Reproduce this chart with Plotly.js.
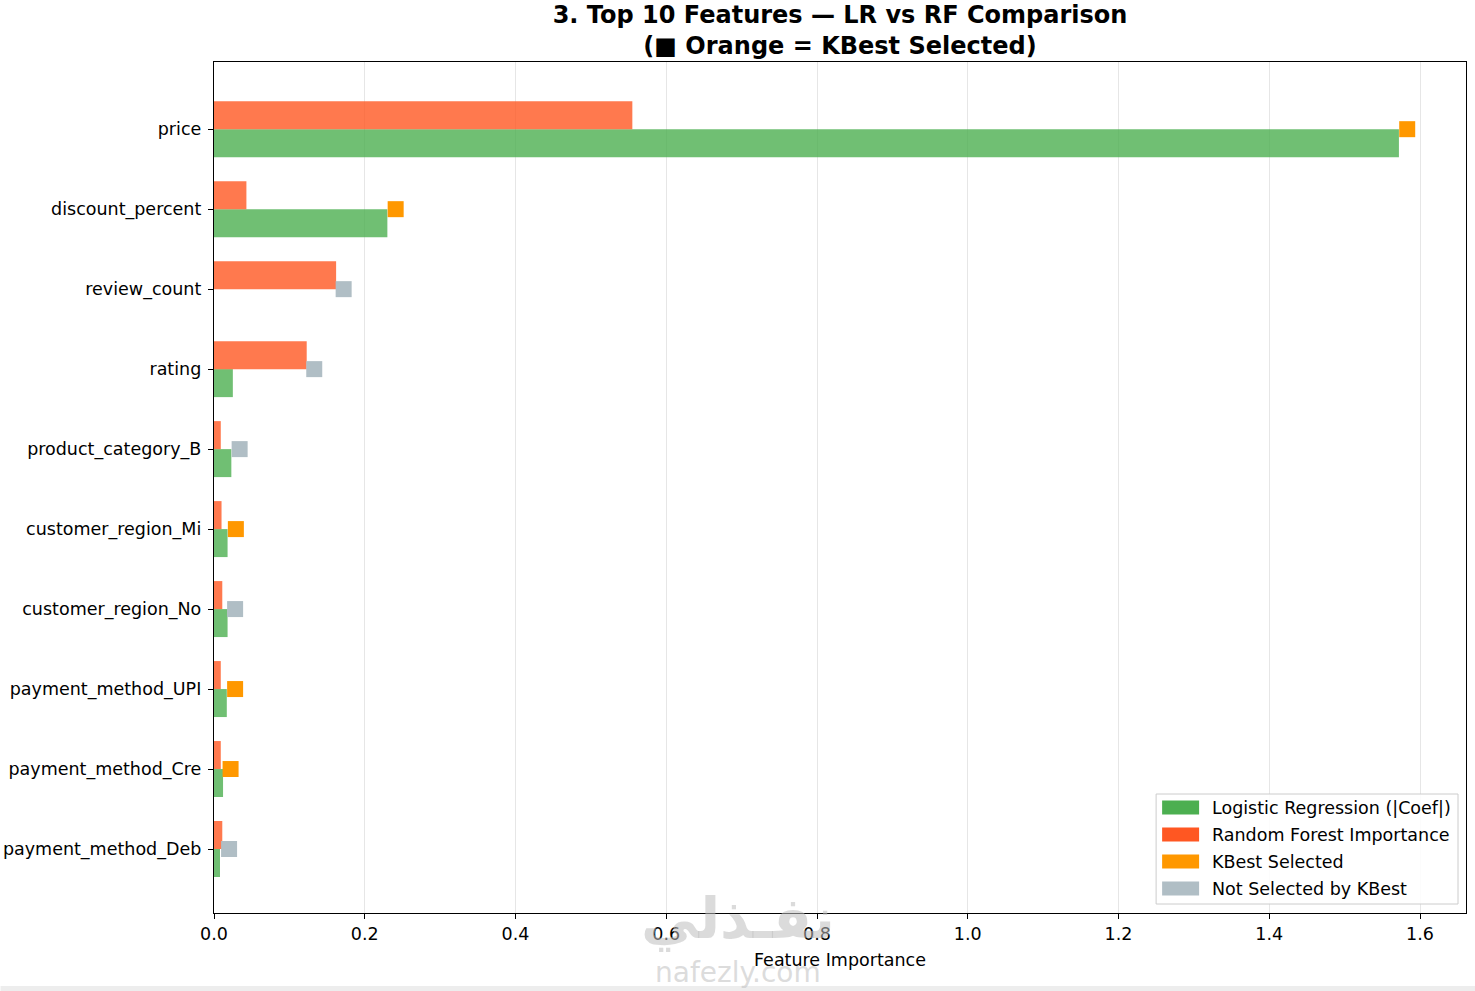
<!DOCTYPE html>
<html>
<head>
<meta charset="utf-8">
<script src="https://cdn.plot.ly/plotly-3.0.1.min.js"></script>
<style>
html,body{margin:0;padding:0;background:#fff;}
#chart{width:1475px;height:991px;}
</style>
</head>
<body>
<div id="chart"></div>
<script>
// ---- data ----
const features = ['price','discount_percent','review_count','rating','product_category_B',
  'customer_region_Mi','customer_region_No','payment_method_UPI','payment_method_Cre','payment_method_Deb'];
const lrCoef = [1.572, 0.230, 0.0, 0.025, 0.023, 0.018, 0.018, 0.017, 0.012, 0.008];
const rfImportance = [0.555, 0.043, 0.162, 0.123, 0.009, 0.010, 0.011, 0.009, 0.009, 0.011];
const kbestSelected = [true, true, false, false, false, true, false, true, true, false];
const markerX = [1.583, 0.241, 0.172, 0.133, 0.034, 0.029, 0.028, 0.028, 0.022, 0.020];
const xTicks = [0.0, 0.2, 0.4, 0.6, 0.8, 1.0, 1.2, 1.4, 1.6];
const legendLabels = ['Logistic Regression (|Coef|)', 'Random Forest Importance', 'KBest Selected', 'Not Selected by KBest'];

// ---- styles ----
const FONT = 'DejaVu Sans, Liberation Sans, sans-serif';
const C_LR = '#4CAF50', C_RF = '#FF5722', C_SEL = '#FF9800', C_NOT = '#B0BEC5';
const BAR_W = 0.35;

const W = 1475, H = 991;
const L = 213.5, R = 1466, T = 62, B = 913;
const px = x => (x - L) / (R - L);
const py = y => (B - y) / (B - T);

const selY = [], selX = [], notY = [], notX = [];
features.forEach((f, i) => {
  if (kbestSelected[i]) { selY.push(f); selX.push(markerX[i]); }
  else { notY.push(f); notX.push(markerX[i]); }
});

const traces = [
  {type:'bar', orientation:'h', name:legendLabels[0], y:features, x:lrCoef,
   width:BAR_W, offset:0, marker:{color:C_LR, opacity:0.8, line:{width:0}}, showlegend:false, hoverinfo:'x+y'},
  {type:'bar', orientation:'h', name:legendLabels[1], y:features, x:rfImportance,
   width:BAR_W, offset:-BAR_W, marker:{color:C_RF, opacity:0.8, line:{width:0}}, showlegend:false, hoverinfo:'x+y'},
  {type:'scatter', mode:'markers', name:legendLabels[2], y:selY, x:selX,
   marker:{symbol:'square', size:16, color:C_SEL, line:{width:0}}, showlegend:false, cliponaxis:false},
  {type:'scatter', mode:'markers', name:legendLabels[3], y:notY, x:notX,
   marker:{symbol:'square', size:16, color:C_NOT, line:{width:0}}, showlegend:false, cliponaxis:false}
];

// manual legend (matplotlib style)
const legColors = [C_LR, C_RF, C_SEL, C_NOT];
const shapes = [
  {type:'rect', xref:'paper', yref:'paper', x0:px(0), x1:px(W), y0:py(986), y1:py(995),
   fillcolor:'#ededed', line:{width:0}, layer:'below'},
  {type:'rect', xref:'paper', yref:'paper', x0:px(1156), x1:px(1458), y0:py(904), y1:py(794),
   fillcolor:'rgba(255,255,255,0.85)', line:{color:'#cccccc', width:1}}
];
const annotations = [];
legendLabels.forEach((lab, k) => {
  const cy = 807.5 + 27 * k;
  shapes.push({type:'rect', xref:'paper', yref:'paper', x0:px(1162), x1:px(1199),
    y0:py(cy + 7), y1:py(cy - 7), fillcolor:legColors[k], line:{width:0}});
  annotations.push({xref:'paper', yref:'paper', x:px(1210), y:py(cy), xanchor:'left', yanchor:'middle',
    text:lab, showarrow:false, font:{family:FONT, size:17.5, color:'#000'}});
});
// watermark
annotations.push({xref:'paper', yref:'paper', x:px(738), y:py(918), xanchor:'center', yanchor:'middle',
  text:'<b>نفـذلي</b>', showarrow:false, font:{family:'DejaVu Sans', size:57, color:'rgba(190,190,190,0.55)'}});
annotations.push({xref:'paper', yref:'paper', x:px(738), y:py(973), xanchor:'center', yanchor:'middle',
  text:'nafezly.com', showarrow:false, font:{family:'DejaVu Sans', size:28, color:'rgba(190,190,190,0.55)'}});

const layout = {
  width:W, height:H,
  paper_bgcolor:'#fff', plot_bgcolor:'#fff',
  margin:{l:L, r:W - R, t:T, b:H - B, pad:0},
  barmode:'overlay',
  showlegend:false,
  font:{family:FONT, size:17.5, color:'#000'},
  title:{text:'<b>3. Top 10 Features — LR vs RF Comparison<br>(■ Orange = KBest Selected)</b>',
    font:{family:FONT, size:24, color:'#000'}, x:0.5, xref:'paper', xanchor:'center',
    y:1 - 23/H, yref:'container', yanchor:'top'},
  xaxis:{range:[0, 1.661], tickvals:xTicks, ticktext:xTicks.map(v => v.toFixed(1)),
    ticks:'outside', ticklen:5, tickwidth:1, tickcolor:'#000',
    showline:true, mirror:true, linecolor:'#000', linewidth:1.2,
    showgrid:true, gridcolor:'#e6e6e6', gridwidth:1, zeroline:false,
    tickfont:{family:FONT, size:17.5, color:'#000'},
    title:{text:'Feature Importance', font:{family:FONT, size:17.5, color:'#000'}, standoff:10}},
  yaxis:{type:'category', categoryorder:'array', categoryarray:features, range:[9.8, -0.84],
    ticks:'outside', ticklen:5, tickwidth:1, tickcolor:'#000',
    showline:true, mirror:true, linecolor:'#000', linewidth:1.2,
    showgrid:false, zeroline:false, ticklabelstandoff:3,
    tickfont:{family:FONT, size:17.5, color:'#000'}},
  shapes:shapes,
  annotations:annotations
};

Plotly.newPlot('chart', traces, layout, {displayModeBar:false, staticPlot:true});
</script>
</body>
</html>
